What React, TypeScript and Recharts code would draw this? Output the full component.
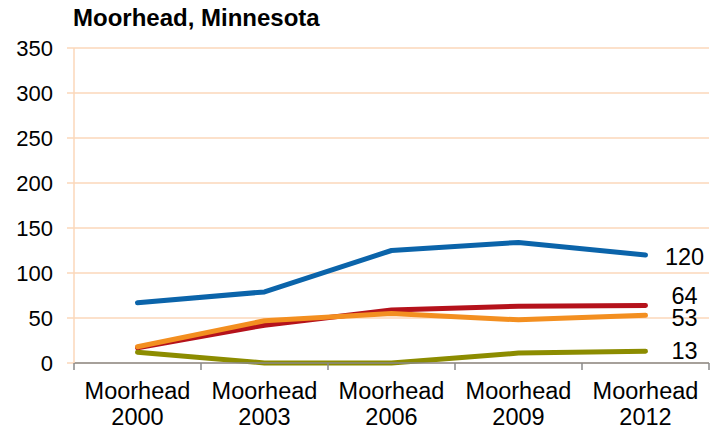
import { LineChart, Line, XAxis, YAxis, CartesianGrid, LabelList } from 'recharts'

const categories = ['Moorhead 2000', 'Moorhead 2003', 'Moorhead 2006', 'Moorhead 2009', 'Moorhead 2012']
const blueVals   = [67, 79, 125, 134, 120]
const redVals    = [17, 42, 59, 63, 64]
const orangeVals = [18, 47, 55, 48, 53]
const oliveVals  = [12, 0, 0, 11, 13]
const yTicks     = [0, 50, 100, 150, 200, 250, 300, 350]

const W = 717
const H = 430
const LEFT = 74
const RIGHT = 8
const BAND = (W - LEFT - RIGHT) / categories.length
const FONT = '"Liberation Sans", Arial, sans-serif'
const GRID = '#FBD7BA'

const data = categories.map((c, i) => ({
  cat: c,
  blue: blueVals[i],
  red: redVals[i],
  orange: orangeVals[i],
  olive: oliveVals[i],
}))

function XTick({ x, y, payload, index }: any) {
  const [a, b] = String(payload.value).split(' ')
  const half = BAND / 2
  return (
    <g>
      <line x1={x - half} y1={y} x2={x - half} y2={y + 7} stroke="#8a8a8a" strokeWidth={1.5} />
      {index === categories.length - 1 && (
        <line x1={x + half} y1={y} x2={x + half} y2={y + 7} stroke="#8a8a8a" strokeWidth={1.5} />
      )}
      <text x={x} y={y + 36} textAnchor="middle" fontSize={23.5} fill="#000" fontFamily={FONT}>{a}</text>
      <text x={x} y={y + 62} textAnchor="middle" fontSize={23.5} fill="#000" fontFamily={FONT}>{b}</text>
    </g>
  )
}

// value label only at the last point, nudged so they don't collide
const endLabel = (dy: number) => (props: any) => {
  const { x, y, value, index } = props
  if (index !== categories.length - 1) return null
  return (
    <text x={x + 39} y={y + dy} textAnchor="middle" dominantBaseline="central"
      fontSize={23.5} fill="#000" fontFamily={FONT}>{value}</text>
  )
}

export default function App() {
  const lineProps = {
    type: 'linear' as const, strokeWidth: 5, dot: false, activeDot: false,
    isAnimationActive: false, strokeLinecap: 'round' as const, strokeLinejoin: 'round' as const,
  }
  return (
    <div style={{ position: 'absolute', left: 0, top: 0, width: W, height: H, background: '#fff', fontFamily: FONT }}>
      <div style={{ position: 'absolute', left: 73, top: 4, fontSize: 24, fontWeight: 700, color: '#000', whiteSpace: 'nowrap' }}>
        Moorhead, Minnesota
      </div>
      <LineChart width={W} height={H} data={data} margin={{ top: 48, right: RIGHT, bottom: 0, left: 0 }}>
        <CartesianGrid horizontal vertical={false} stroke={GRID} strokeWidth={1.5} />
        <XAxis dataKey="cat" padding={{ left: BAND / 2, right: BAND / 2 }} interval={0}
          axisLine={{ stroke: '#8a8a8a', strokeWidth: 1.5 }} tickLine={false} tickSize={0} tickMargin={0}
          tick={<XTick />} height={67} />
        <YAxis domain={[0, 350]} ticks={yTicks} width={LEFT} tickSize={7} tickMargin={14}
          axisLine={{ stroke: GRID, strokeWidth: 1.5 }} tickLine={{ stroke: GRID, strokeWidth: 1.5 }}
          tick={{ fontSize: 22, fill: '#000', fontFamily: FONT }} />
        <Line dataKey="blue" stroke="#0B64AA" {...lineProps}>
          <LabelList dataKey="blue" content={endLabel(2)} />
        </Line>
        <Line dataKey="red" stroke="#B5121B" {...lineProps}>
          <LabelList dataKey="red" content={endLabel(-9)} />
        </Line>
        <Line dataKey="orange" stroke="#F38F20" {...lineProps}>
          <LabelList dataKey="orange" content={endLabel(3)} />
        </Line>
        <Line dataKey="olive" stroke="#8C8C00" {...lineProps}>
          <LabelList dataKey="olive" content={endLabel(0)} />
        </Line>
      </LineChart>
    </div>
  )
}
